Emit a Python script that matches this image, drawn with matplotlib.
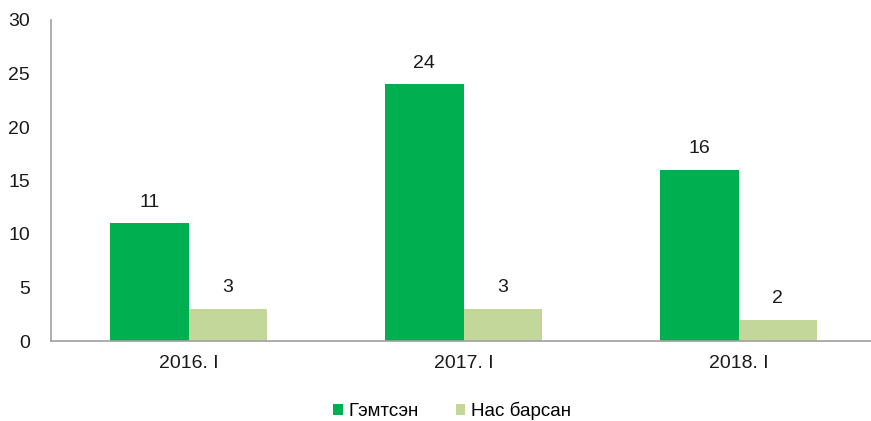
import matplotlib.pyplot as plt
import numpy as np

plt.rcParams['font.family'] = ['Liberation Sans', 'DejaVu Sans']

# --- Data ---
categories = ['2016. I', '2017. I', '2018. I']
injured = [11, 24, 16]
deaths = [3, 3, 2]
series_names = ['Гэмтсэн', 'Нас барсан']

green = '#00B050'
light_green = '#C4D79B'

fig = plt.figure(figsize=(8.71, 4.21), dpi=100)
ax = fig.add_axes([51 / 871, 1 - 341 / 421, 825 / 871, 321 / 421])

x = np.arange(len(categories))
w = 0.285
b1 = ax.bar(x - w / 2, injured, w, color=green, label=series_names[0])
b2 = ax.bar(x + w / 2, deaths, w, color=light_green, label=series_names[1])

for bars in (b1, b2):
    for bar in bars:
        ax.annotate(f'{bar.get_height():g}',
                    (bar.get_x() + bar.get_width() / 2, bar.get_height()),
                    xytext=(0, 9), textcoords='offset points',
                    ha='center', va='bottom', fontsize=14, color='#1a1a1a')

ax.set_xlim(-0.5, 2.5)
ax.set_ylim(0, 30)
ax.set_yticks(range(0, 31, 5))
ax.set_xticks(x)
ax.set_xticklabels(categories)
ax.tick_params(axis='both', length=0, labelsize=14, colors='#1a1a1a')
ax.tick_params(axis='y', pad=15)
ax.tick_params(axis='x', pad=10)

for side in ('top', 'right'):
    ax.spines[side].set_visible(False)
for side in ('left', 'bottom'):
    ax.spines[side].set_color('#a0a0a0')
    ax.spines[side].set_linewidth(1.2)

fig.legend(loc='center', bbox_to_anchor=(452 / 871, 1 - 411 / 421), ncol=2,
           frameon=False, fontsize=13.5, handlelength=0.5, handleheight=0.5,
           handletextpad=0.3, columnspacing=2.0)

fig.savefig('out.png', dpi=100)
